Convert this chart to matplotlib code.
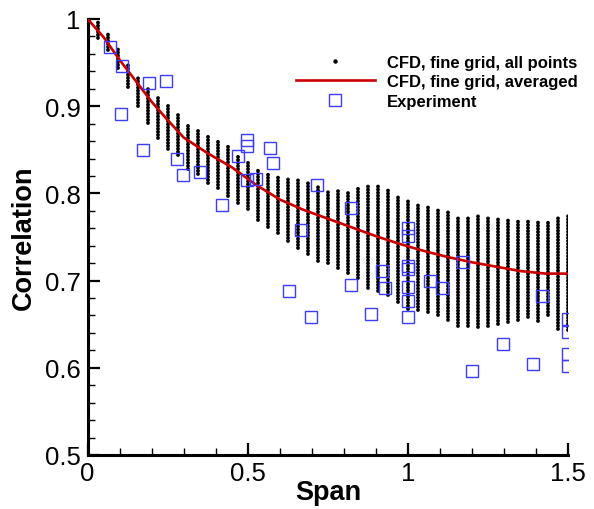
import numpy as np
import matplotlib
matplotlib.use('Agg')
import matplotlib.pyplot as plt
from matplotlib.lines import Line2D
from matplotlib.ticker import MultipleLocator

plt.rcParams['font.family'] = ['Liberation Sans', 'DejaVu Sans']

# CFD columns: one column of points every span/32, extent
span_cols = np.linspace(0, 1.5, 49)
cfd_lo = [1.0, 0.978, 0.965, 0.944, 0.922, 0.900, 0.881, 0.864, 0.851, 0.844,
          0.828, 0.822, 0.812, 0.806, 0.797, 0.789, 0.782, 0.770, 0.762, 0.755,
          0.745, 0.737, 0.730, 0.723, 0.720, 0.714, 0.709, 0.703, 0.692, 0.688,
          0.684, 0.675, 0.667, 0.666, 0.664, 0.660, 0.655, 0.648, 0.648, 0.647,
          0.648, 0.650, 0.653, 0.655, 0.658, 0.654, 0.660, 0.645, 0.643]
cfd_hi = [1.0, 0.999, 0.983, 0.968, 0.948, 0.934, 0.921, 0.912, 0.904, 0.891,
          0.881, 0.875, 0.868, 0.862, 0.854, 0.845, 0.836, 0.827, 0.822, 0.819,
          0.818, 0.816, 0.814, 0.808, 0.804, 0.803, 0.802, 0.806, 0.809, 0.808,
          0.804, 0.798, 0.794, 0.788, 0.784, 0.782, 0.780, 0.772, 0.773, 0.774,
          0.774, 0.773, 0.771, 0.770, 0.769, 0.767, 0.767, 0.774, 0.776]

# averaged CFD curve
avg_x = [0, 0.05, 0.1, 0.15, 0.2, 0.25, 0.3, 0.375, 0.45, 0.525, 0.6, 0.675,
         0.75, 0.825, 0.9, 0.975, 1.05, 1.125, 1.2, 1.275, 1.35, 1.43, 1.5]
avg_y = [1.0, 0.979, 0.953, 0.929, 0.905, 0.884, 0.864, 0.846, 0.830, 0.810,
         0.793, 0.781, 0.771, 0.761, 0.751, 0.742, 0.734, 0.727, 0.721, 0.716,
         0.711, 0.708, 0.708]

# experiment
exp_x = [0.069, 0.107, 0.103, 0.192, 0.244, 0.174, 0.279, 0.298, 0.350, 0.420,
         0.471, 0.499, 0.499, 0.499, 0.525, 0.569, 0.579, 0.628, 0.667, 0.699,
         0.717, 0.822, 0.822, 0.886, 0.918, 0.928, 1.0, 1.0, 1.0, 1.0, 1.0,
         1.0, 1.0, 1.069, 1.105, 1.173, 1.199, 1.298, 1.390, 1.418, 1.5, 1.5,
         1.5, 1.5]
exp_y = [0.968, 0.946, 0.891, 0.927, 0.929, 0.850, 0.839, 0.821, 0.825, 0.787,
         0.843, 0.861, 0.854, 0.815, 0.816, 0.852, 0.835, 0.688, 0.758, 0.658,
         0.810, 0.783, 0.695, 0.662, 0.711, 0.692, 0.760, 0.751, 0.717, 0.713,
         0.693, 0.677, 0.658, 0.700, 0.692, 0.721, 0.596, 0.627, 0.604, 0.682,
         0.656, 0.641, 0.616, 0.602]

fig = plt.figure(figsize=(5.94, 5.10), dpi=100)
ax = fig.add_axes([0.1476, 0.1059, 0.8086, 0.8549])

# CFD point columns
ax.vlines(span_cols, cfd_lo, cfd_hi, colors='black', linewidth=2.8,
          linestyles=[(0, (0.01, 0.78))], capstyle='round', zorder=2)
ax.plot(span_cols[:1], cfd_hi[:1], 'o', color='black', markersize=2.8, zorder=2)

ax.plot(avg_x, avg_y, color='#cc0000', linewidth=1.9, zorder=3)
ax.plot(exp_x, exp_y, 's', markersize=8.2, markerfacecolor='none',
        markeredgecolor='#3c3cff', markeredgewidth=1.0, zorder=4)

ax.set_xlim(0, 1.5)
ax.set_ylim(0.5, 1.0)
ax.xaxis.set_major_locator(MultipleLocator(0.5))
ax.xaxis.set_minor_locator(MultipleLocator(0.1))
ax.yaxis.set_major_locator(MultipleLocator(0.1))
ax.yaxis.set_minor_locator(MultipleLocator(0.02))
ax.set_xticks([0, 0.5, 1, 1.5])
ax.set_xticklabels(['0', '0.5', '1', '1.5'])
ax.set_yticks([0.5, 0.6, 0.7, 0.8, 0.9, 1.0])
ax.set_yticklabels(['0.5', '0.6', '0.7', '0.8', '0.9', '1'])
ax.tick_params(which='both', direction='in', labelsize=18.5, color='black')
ax.tick_params(which='major', length=8.5, width=1.6)
ax.tick_params(which='minor', length=5, width=1.0)
ax.tick_params(axis='x', which='major', pad=4)
ax.tick_params(axis='y', which='major', pad=5)
for s in ['top', 'right']:
    ax.spines[s].set_visible(False)
for s in ['left', 'bottom']:
    ax.spines[s].set_linewidth(2.2)

ax.set_xlabel('Span', fontsize=19.5, fontweight='bold', labelpad=-4)
ax.set_ylabel('Correlation', fontsize=19.5, fontweight='bold', labelpad=6)

handles = [Line2D([], [], linestyle='none', marker='o', color='black', markersize=2.2),
           Line2D([], [], color='#cc0000', linewidth=1.9),
           Line2D([], [], linestyle='none', marker='s', markersize=8.2,
                  markerfacecolor='none', markeredgecolor='#3c3cff', markeredgewidth=1.0)]
labels = ['CFD, fine grid, all points', 'CFD, fine grid, averaged', 'Experiment']
ax.legend(handles, labels, loc='upper left', bbox_to_anchor=(0.416, 0.937),
          frameon=False, borderpad=0, handlelength=4.74, handletextpad=0.72,
          labelspacing=0.27, prop={'weight': 'bold', 'size': 12})

fig.savefig('out.png', dpi=100)
